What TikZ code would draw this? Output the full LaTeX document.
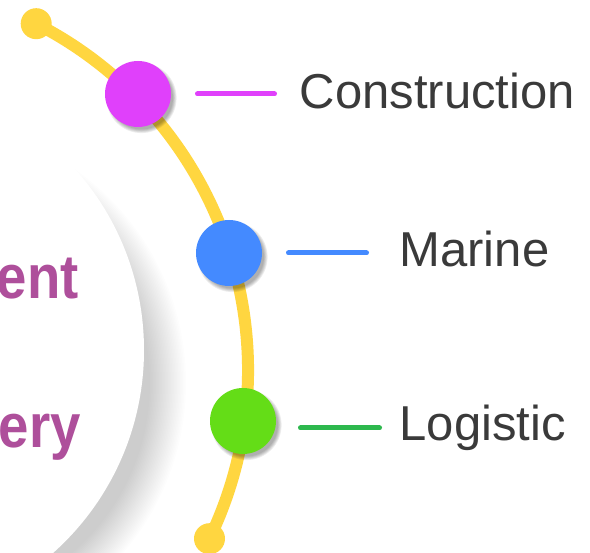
\documentclass[tikz,border=0pt]{standalone}
\usepackage{fontspec}
\setmainfont{Liberation Sans}
\definecolor{arcyellow}{HTML}{FFD640}
\definecolor{cpurple}{HTML}{E040FB}
\definecolor{cblue}{HTML}{448AFF}
\definecolor{cgreen}{HTML}{64DD17}
\definecolor{lgreen}{HTML}{2DB84D}
\definecolor{tpurple}{HTML}{AE4F9B}
\definecolor{tgray}{HTML}{3A3A3A}
\begin{document}
\begin{tikzpicture}[x=1pt,y=1pt,
  dotnode/.style={circle,fill=cpurple,minimum size=66pt,inner sep=0pt},
  endnode/.style={circle,fill=arcyellow,minimum size=31pt,inner sep=0pt},
  arcline/.style={draw=arcyellow,line width=12pt},
  tick/.style={line width=5pt,line cap=round},
  label/.style={inner sep=0pt,anchor=base west,text=tgray,font=\fontsize{49}{58}\selectfont},
  bigtext/.style={inner sep=0pt,anchor=base east,text=tpurple,font=\fontsize{62}{72}\selectfont\bfseries}]
\useasboundingbox (0,0) rectangle (590,553);
\fill[white] (0,0) rectangle (590,553);
\begin{scope}
\clip (0,0) rectangle (590,553);
% big circle with soft shadow
\foreach \i in {0,...,24}{
  \fill[black,opacity=0.0075] (-75,170) circle ({225+1.5*\i});
}
\node[circle,fill=white,minimum size=544pt,inner sep=0pt] (big) at (-128,203) {};
\node[bigtext] (ent) at (79,254) {\scalebox{0.88}[1]{ent}};
\node[bigtext] (ery) at (81,105) {\scalebox{0.88}[1]{ery}};
\end{scope}
% arc
\node[endnode] (top) at (36.2,529.3) {};
\node[endnode] (bot) at (209.5,14.3) {};
\draw[arcline] (top.center) arc[start angle=62.9,end angle=-25.7,radius=389];
% shadows of the dots
\foreach \p in {(138,459),(229,300),(243,132)}{
  \foreach \k in {0,...,4}{
    \fill[black,opacity=0.07] \p ++(3.5,-4) circle ({31.5+0.9*\k});
  }
}
\node[dotnode,fill=cpurple] (c1) at (138,459) {};
\node[dotnode,fill=cblue] (c2) at (229,300) {};
\node[dotnode,fill=cgreen] (c3) at (243,132) {};
% ticks
\coordinate (t1a) at (197.5,459);
\coordinate (t1b) at (274.5,459);
\coordinate (t2a) at (288.5,300);
\coordinate (t2b) at (366.5,300);
\coordinate (t3a) at (300.5,125);
\coordinate (t3b) at (379.5,125);
\draw[tick,cpurple] (t1a) -- (t1b);
\draw[tick,cblue] (t2a) -- (t2b);
\draw[tick,lgreen] (t3a) -- (t3b);
% labels
\node[label] (l1) at (299.6,444) {Construction};
\node[label] (l2) at (399.4,286) {Marine};
\node[label] (l3) at (399.4,112) {Logistic};
\end{tikzpicture}
\end{document}
